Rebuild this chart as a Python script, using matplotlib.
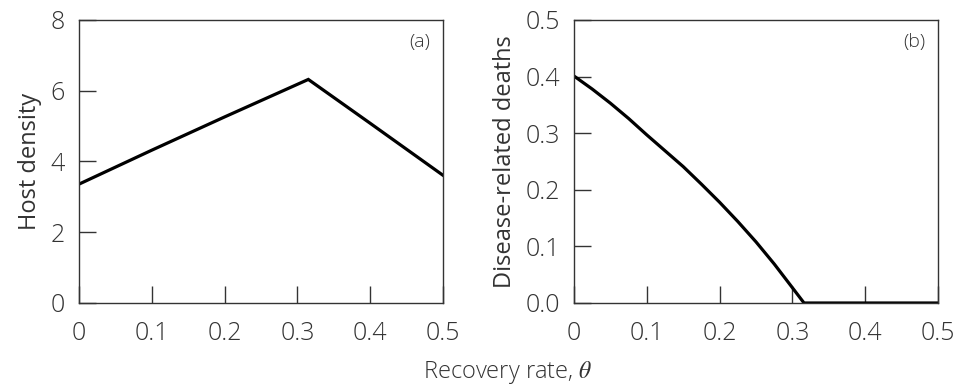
import matplotlib.pyplot as plt
import numpy as np

plt.rcParams['font.family'] = ['Open Sans', 'DejaVu Sans']
plt.rcParams['font.weight'] = 'light'
plt.rcParams['mathtext.fontset'] = 'stix'

# panel (a): host density vs recovery rate
theta_a = [0, 0.1, 0.2, 0.315, 0.4, 0.5]
host = [3.36, 4.32, 5.26, 6.32, 5.08, 3.61]

# panel (b): disease-related deaths vs recovery rate
theta_b = [0, 0.025, 0.05, 0.075, 0.1, 0.125, 0.15, 0.175, 0.2, 0.225,
           0.25, 0.275, 0.3, 0.316, 0.4, 0.5]
deaths = [0.401, 0.378, 0.353, 0.326, 0.297, 0.269, 0.241, 0.21, 0.178,
          0.144, 0.108, 0.069, 0.027, 0.0, 0.0, 0.0]

xticks = [0, 0.1, 0.2, 0.3, 0.4, 0.5]
xticklabels = ['0', '0.1', '0.2', '0.3', '0.4', '0.5']

fig = plt.figure(figsize=(9.57, 3.87), dpi=100)
ax1 = fig.add_axes([79 / 957, 1 - 303 / 387, 364 / 957, 283 / 387])
ax2 = fig.add_axes([574 / 957, 1 - 303 / 387, 364 / 957, 283 / 387])

txt = '#333333'

ax1.plot(theta_a, host, color='black', lw=2.3, solid_joinstyle='miter')
ax1.set_xlim(0, 0.5)
ax1.set_ylim(0, 8)
ax1.set_yticks([0, 2, 4, 6, 8])
ax1.set_ylabel('Host density', fontsize=17, color=txt, labelpad=6)
ax1.text(0.965, 0.955, '(a)', transform=ax1.transAxes, ha='right', va='top',
         fontsize=14, color=txt)

ax2.plot(theta_b, deaths, color='black', lw=2.3, solid_joinstyle='miter')
ax2.set_xlim(0, 0.5)
ax2.set_ylim(0, 0.5)
ax2.set_yticks([0, 0.1, 0.2, 0.3, 0.4, 0.5])
ax2.set_yticklabels(['0.0', '0.1', '0.2', '0.3', '0.4', '0.5'])
ax2.set_ylabel('Disease-related deaths', fontsize=17, color=txt, labelpad=6)
ax2.text(0.965, 0.955, '(b)', transform=ax2.transAxes, ha='right', va='top',
         fontsize=14, color=txt)

for ax in (ax1, ax2):
    ax.set_xticks(xticks)
    ax.set_xticklabels(xticklabels)
    ax.tick_params(direction='in', length=12, width=1, color='#333333',
                   labelsize=18, labelcolor=txt)
    ax.tick_params(axis='x', pad=13)
    ax.tick_params(axis='y', pad=10)
    for s in ax.spines.values():
        s.set_linewidth(1)
        s.set_color('#333333')

fig.text(508 / 957, 1 - 373 / 387, r'Recovery rate, $\theta$', ha='center',
         va='center', fontsize=17, color=txt)

fig.savefig('out.png', dpi=100)
